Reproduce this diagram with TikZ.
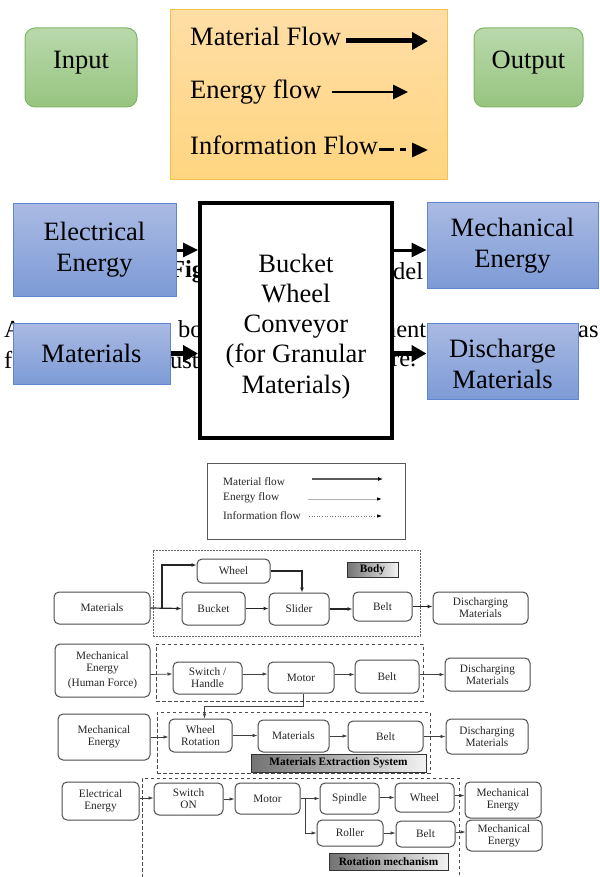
\documentclass[tikz,border=0pt]{standalone}
\usepackage{fontspec}
\setmainfont{Liberation Serif}
\usetikzlibrary{arrows.meta}

\definecolor{ioGreenTop}{HTML}{B9D9AC}
\definecolor{ioGreenBot}{HTML}{97C47F}
\definecolor{ioGreenLine}{HTML}{82B366}
\definecolor{legOrTop}{HTML}{FFDEA6}
\definecolor{legOrBot}{HTML}{FFD580}
\definecolor{legOrLine}{HTML}{F2C14E}
\definecolor{blkBlueTop}{HTML}{AABAE3}
\definecolor{blkBlueBot}{HTML}{7D9BD6}
\definecolor{blkBlueLine}{HTML}{5F86D2}

\newcommand\bigfnt{\fontsize{26.5}{31}\selectfont}
\newcommand\fragfnt{\fontsize{24.5}{29}\selectfont}
\newcommand\smallfnt{\fontsize{11.3}{12}\selectfont}

\tikzset{
  iobox/.style={draw=ioGreenLine, line width=1pt, rounded corners=10pt,
    top color=ioGreenTop, bottom color=ioGreenBot, inner sep=0pt,
    font=\bigfnt, text height=17pt, text depth=14pt},
  legbox/.style={draw=legOrLine, line width=1pt, top color=legOrTop,
    bottom color=legOrBot, inner sep=0pt},
  legtext/.style={anchor=base west, inner sep=0pt, font=\bigfnt},
  bluebox/.style={draw=blkBlueLine, line width=1pt, top color=blkBlueTop,
    bottom color=blkBlueBot, inner sep=0pt, align=center, font=\bigfnt},
  blackbox/.style={draw, line width=4pt, fill=white, inner sep=0pt,
    align=center, font=\fontsize{26.5}{30.3}\selectfont},
  frag/.style={anchor=base west, inner sep=0pt, font=\fragfnt},
  matflow/.style={line width=5pt, -{Triangle[length=16pt,width=17pt]}},
  enflow/.style={line width=2.6pt, -{Triangle[length=15pt,width=14pt]}},
  infflow/.style={line width=3pt, dash pattern=on 15pt off 6pt on 6pt off 6pt,
    -{Triangle[length=16pt,width=14pt]}},
  elarrow/.style={line width=3pt, -{Triangle[length=15pt,width=14pt]}},
  mtarrow/.style={line width=5pt, -{Triangle[length=15pt,width=16pt]}},
  leg2/.style={draw=black!65, line width=1pt, inner sep=0pt},
  ltext/.style={anchor=west, inner sep=0pt, font=\smallfnt, text=black!85},
  grpdot/.style={draw=black!60, line width=0.9pt, dash pattern=on 2pt off 1pt, inner sep=0pt},
  grpdash/.style={draw=black!70, line width=0.8pt, dash pattern=on 3.5pt off 2.5pt, inner sep=0pt},
  rbox/.style={draw=black!70, line width=1pt, rounded corners=5pt, fill=white,
    inner sep=0pt, align=center, font=\smallfnt, text=black!85},
  tagbox/.style={draw=black!80, line width=0.8pt, left color=black!55,
    right color=black!5, inner sep=0pt, font=\smallfnt\bfseries},
  matarr/.style={line width=1.2pt, draw=black!85, -{Latex[length=5pt,width=4pt]}},
  enarr/.style={line width=0.7pt, draw=black!75, -{Latex[length=5pt,width=3.5pt]}}
}

\begin{document}
\begin{tikzpicture}[x=1pt,y=-1pt]
\useasboundingbox (0,0) rectangle (599,877);

% ---- legend with input and output
\node[iobox, minimum width=112pt, minimum height=79pt] (input) at (81,67.5) {Input};
\node[iobox, minimum width=109pt, minimum height=79pt] (output) at (528.5,67.5) {Output};
\node[legbox, minimum width=277pt, minimum height=170pt] (legend) at (308.5,95) {};
\node[legtext] (mflow) at (190,46) {Material Flow};
\node[legtext] (eflow) at (190,99) {Energy flow};
\node[legtext] (iflow) at (190,155) {Information Flow};
\coordinate (mf-s) at (346,41);  \coordinate (mf-e) at (428,41);
\coordinate (ef-s) at (332,92);  \coordinate (ef-e) at (408,92);
\coordinate (if-s) at (379,150); \coordinate (if-e) at (428,150);
\draw[matflow] (mf-s) -- (mf-e);
\draw[enflow] (ef-s) -- (ef-e);
\draw[infflow] (if-s) -- (if-e);

% ---- black box model (text behind it shows through)
\node[frag] (fr-fig) at (170,277) {\textbf{Fig}};
\node[frag] (fr-del) at (393,279) {del};
\node[frag] (fr-a) at (4,337) {A};
\node[frag] (fr-bo) at (178,337) {bo};
\node[frag] (fr-ment) at (377,337) {ment};
\node[frag] (fr-as) at (578,337) {as};
\node[frag] (fr-f) at (4,368) {f};
\node[frag] (fr-ust) at (170,368) {ust};
\node[frag] (fr-re) at (391,366) {re.};

\node[bluebox, minimum width=163pt, minimum height=92pt] (elec) at (94.5,250) {Electrical\\Energy};
\node[bluebox, minimum width=171pt, minimum height=85pt] (mech) at (512.5,245.5) {Mechanical\\Energy};
\node[bluebox, minimum width=157pt, minimum height=61pt] (mat) at (91.5,353.5) {Materials};
\node[bluebox, minimum width=151pt, minimum height=76pt] (dis) at (502.5,361) {\rule{0pt}{24pt}Discharge\\Materials};
\node[blackbox, minimum width=192pt, minimum height=235pt] (bwc) at (296,320.5)
  {\rule{0pt}{30pt}Bucket\\Wheel\\Conveyor\\(for Granular\\Materials)};
\draw[elarrow] (elec.east) -- (elec.east -| bwc.west);
\draw[elarrow] (bwc.east |- elec.east) -- (mech.west |- elec.east);
\draw[mtarrow] (mat.east) -- (mat.east -| bwc.west);
\draw[mtarrow] (bwc.east |- mat.east) -- (dis.west |- mat.east);

% ---- function structure
\node[leg2, minimum width=198pt, minimum height=76pt] (legend2) at (306,501) {};
\node[ltext] (t-mat) at (223,482) {Material flow};
\node[ltext] (t-en) at (223,498) {Energy flow};
\node[ltext] (t-inf) at (223,516) {Information flow};
\coordinate (lm-s) at (312,479); \coordinate (lm-e) at (383,479);
\coordinate (le-s) at (308,499); \coordinate (le-e) at (382,499);
\coordinate (li-s) at (309,516); \coordinate (li-e) at (382,516);
\draw[line width=1.6pt, draw=black!65, -{Latex[length=5pt,width=4pt,color=black]}] (lm-s) -- (lm-e);
\draw[line width=1pt, draw=black!30, -{Latex[length=5pt,width=3.5pt,color=black]}] (le-s) -- (le-e);
\draw[line width=0.6pt, draw=black!55, dotted, -{Latex[length=5pt,width=3.5pt,color=black]}] (li-s) -- (li-e);

\node[grpdot, minimum width=267pt, minimum height=86pt] (body) at (286.5,593) {};
\node[grpdash, minimum width=267pt, minimum height=57pt] (drive) at (289.5,672.5) {};
\node[grpdash, minimum width=273pt, minimum height=61pt] (extract) at (293.5,742.5) {};
\node[grpdash, minimum width=317pt, minimum height=104pt] (rotate) at (300.5,830) {};

% body row
\node[rbox, minimum width=96pt, minimum height=32pt] (m1) at (102,608) {Materials};
\node[rbox, minimum width=73pt, minimum height=24pt] (wheel1) at (233.5,571) {Wheel};
\node[rbox, minimum width=63pt, minimum height=33pt] (bucket) at (213.5,608.5) {Bucket};
\node[rbox, minimum width=60pt, minimum height=32pt] (slider) at (299,609) {Slider};
\node[rbox, minimum width=59pt, minimum height=29pt] (belt1) at (382.5,606.5) {Belt};
\node[rbox, minimum width=95pt, minimum height=32pt] (dis1) at (480.5,608) {Discharging\\Materials};
\node[tagbox, minimum width=51pt, minimum height=15pt] (tag-body) at (372.5,569.5) {Body};
\coordinate (split) at (162,608);
\draw[matarr] (m1.east) -- (bucket.west);
\draw[matarr] (split) |- ([yshift=6pt]wheel1.west);
\draw[matarr] (wheel1.east) -| ([xshift=3pt]slider.north);
\draw[matarr] (bucket.east) -- (bucket.east -| slider.west);
\draw[matarr] (slider.east) -- (slider.east -| belt1.west);
\draw[matarr] (belt1.east) -- (belt1.east -| dis1.west);

% drive row
\node[rbox, minimum width=95pt, minimum height=53pt] (mech2) at (102.5,670.5) {Mechanical\\Energy\\[3pt](Human Force)};
\node[rbox, minimum width=69pt, minimum height=32pt] (sw2) at (207.5,678) {Switch /\\Handle};
\node[rbox, minimum width=66pt, minimum height=31pt] (motor2) at (301,677.5) {Motor};
\node[rbox, minimum width=64pt, minimum height=33pt] (belt2) at (387,676.5) {Belt};
\node[rbox, minimum width=85pt, minimum height=33pt] (dis2) at (487.5,674.5) {Discharging\\Materials};
\draw[enarr] ([yshift=-4pt]mech2.east) -- ([yshift=4pt]sw2.west);
\draw[enarr] ([yshift=4pt]sw2.east) -- ([yshift=4pt]sw2.east -| motor2.west);
\draw[enarr] ([yshift=3pt]motor2.east) -- ([yshift=3pt]motor2.east -| belt2.west);
\draw[enarr] ([yshift=2pt]belt2.east) -- ([yshift=2pt]belt2.east -| dis2.west);

% extraction row
\node[rbox, minimum width=92pt, minimum height=46pt] (mech3) at (104,737) {Mechanical\\Energy};
\node[rbox, minimum width=63pt, minimum height=33pt] (wr) at (200.5,735.5) {Wheel\\Rotation};
\node[rbox, minimum width=71pt, minimum height=32pt] (mat3) at (293.5,736) {Materials};
\node[rbox, minimum width=75pt, minimum height=31pt] (belt3) at (385.5,736.5) {Belt};
\node[rbox, minimum width=82pt, minimum height=35pt] (dis3) at (487,736.5) {Discharging\\Materials};
\node[tagbox, minimum width=175pt, minimum height=18pt] (tag-ext) at (338.5,763) {Materials Extraction System};
\draw[enarr] ([xshift=2pt]motor2.south) -- ++(0,13) -| ([xshift=4pt]wr.north);
\draw[enarr] (mech3.east) -- (mech3.east -| wr.west);
\draw[enarr] (wr.east) -- (wr.east -| mat3.west);
\draw[enarr] (mat3.east) -- (mat3.east -| belt3.west);
\draw[enarr] (belt3.east) -- (belt3.east -| dis3.west);

% rotation row
\node[rbox, minimum width=77pt, minimum height=38pt] (elec4) at (100.5,801) {Electrical\\Energy};
\node[rbox, minimum width=69pt, minimum height=32pt] (swon) at (188.5,799) {Switch\\ON};
\node[rbox, minimum width=65pt, minimum height=31pt] (motor4) at (267.5,798.5) {Motor};
\node[rbox, minimum width=59pt, minimum height=31pt] (spindle) at (349.5,798.5) {Spindle};
\node[rbox, minimum width=59pt, minimum height=29pt] (wheel4) at (424.5,797.5) {Wheel};
\node[rbox, minimum width=76pt, minimum height=36pt] (mech4a) at (503,800) {Mechanical\\Energy};
\node[rbox, minimum width=66pt, minimum height=26pt] (roller) at (350,833) {Roller};
\node[rbox, minimum width=59pt, minimum height=26pt] (belt4) at (425.5,834) {Belt};
\node[rbox, minimum width=76pt, minimum height=31pt] (mech4b) at (504,835.5) {Mechanical\\Energy};
\node[tagbox, minimum width=119pt, minimum height=17pt] (tag-rot) at (388.5,861.5) {Rotation mechanism};
\draw[enarr] ([yshift=3pt]elec4.east) -- ([yshift=1pt]swon.west);
\draw[enarr] (swon.east) -- (swon.east -| motor4.west);
\draw[enarr] (motor4.east) -- (motor4.east -| spindle.west);
\draw[enarr] ([xshift=5pt]motor4.east) |- (roller.west);
\draw[enarr] ([yshift=1pt]spindle.east) -- ([yshift=1pt]spindle.east -| wheel4.west);
\draw[enarr] ([yshift=2pt]wheel4.east) -- ([yshift=2pt]wheel4.east -| mech4a.west);
\draw[enarr] (roller.east) -- (roller.east -| belt4.west);
\draw[enarr] ([yshift=2pt]belt4.east) -- ([yshift=2pt]belt4.east -| mech4b.west);
\end{tikzpicture}
\end{document}
